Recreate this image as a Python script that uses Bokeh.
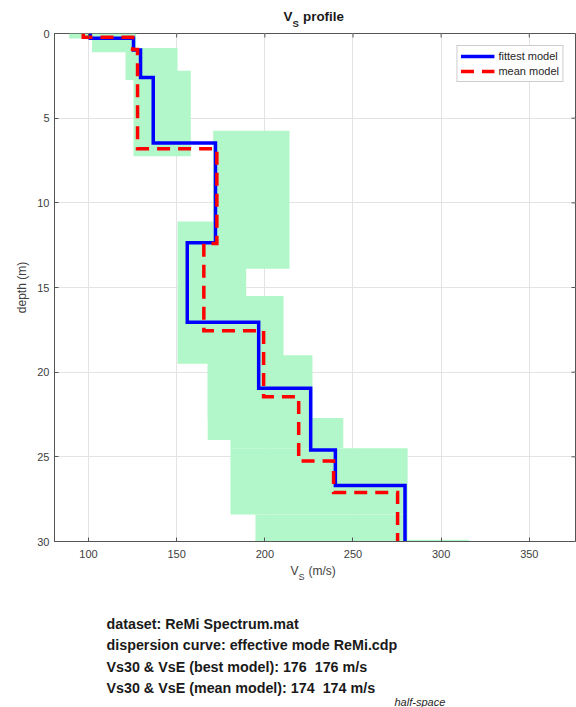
from bokeh.plotting import figure
from bokeh.models import Range1d, FixedTicker, Legend, LegendItem
from bokeh.layouts import column
from bokeh.core.properties import value
from bokeh.embed import file_html
from bokeh.resources import INLINE

# ---------------- data ----------------
# fittest model (blue): shear-wave velocity per layer and layer bottom depth
fit_vs = [101, 125.5, 129.5, 136.7, 172.0, 156.0, 196.5, 226.0, 240.0, 279.5]
fit_bottom = [0.28, 0.98, 2.6, 6.46, 12.35, 17.05, 20.95, 24.6, 26.7, 30]
# mean model (red dashed)
mean_vs = [97, 125.0, 127.8, 172.8, 165.4, 199.3, 219.2, 239.0, 275.3]
mean_bottom = [0.22, 0.95, 6.8, 12.4, 17.55, 21.45, 25.25, 27.1, 30]
# search-space / uncertainty rectangles (green)
band_vmin = [89, 102, 121, 125.5, 170.7, 150.5, 167.6, 167.6, 180.5, 180.5, 194.7, 194.7]
band_vmax = [127, 127, 150.5, 158, 214, 189.4, 210.6, 227, 244.5, 281, 281, 316]
band_top = [0, 0.28, 0.86, 2.2, 5.75, 11.1, 15.5, 19.0, 22.7, 24.5, 28.4, 29.9]
band_bottom = [0.3, 1.1, 2.75, 7.25, 13.9, 19.5, 24.0, 22.7, 24.5, 28.4, 30, 31]

x_ticks = [100, 150, 200, 250, 300, 350]
y_ticks = [0, 5, 10, 15, 20, 25, 30]
X_MIN, X_MAX = 80.7, 376.2
Y_MIN, Y_MAX = 0, 30

info_lines = [
    "dataset: ReMi Spectrum.mat",
    "dispersion curve: effective mode ReMi.cdp",
    "Vs30 & VsE (best model): 176 \u00a0176 m/s",
    "Vs30 & VsE (mean model): 174 \u00a0174 m/s",
]


def step_xy(vs, bottoms):
    xs, ys = [], []
    top = 0.0
    for v, b in zip(vs, bottoms):
        xs += [v, v]
        ys += [top, b]
        top = b
    return xs, ys


FONT = "Liberation Sans"
W = 576
TOP_H = 27          # title strip
MAIN_TOP = 6        # border above the frame inside the main plot (frame top at 33)
MAIN_BOT = 24       # border below the frame (frame bottom at 541)
MAIN_H = 541 + MAIN_BOT - TOP_H
BOT_H = 707 - TOP_H - MAIN_H
FL, FR = 54, 575
AX = "#555555"


def blank(h):
    f = figure(width=W, height=h, x_range=Range1d(FL, FR), y_range=Range1d(h, 0),
               output_backend="svg", toolbar_location=None,
               min_border_left=FL, min_border_right=W - FR, min_border_top=0, min_border_bottom=0)
    f.axis.visible = False
    f.grid.visible = False
    f.outline_line_color = None
    f.background_fill_color = "white"
    f.border_fill_color = "white"
    return f


def txt(f, x, y, s, size, style="normal", align="left", color="#1a1a1a"):
    f.text(x=[x], y=[y], text=[s], text_font=value(FONT), text_font_size=value(f"{size}px"),
           text_font_style=value(style), text_align=align, text_baseline="middle",
           text_color=color)


# ---------------- title strip ----------------
t = blank(TOP_H)
txt(t, 283, 16, "V", 13.4, "bold")
txt(t, 292, 22.5, "S", 9.5, "bold")
txt(t, 302.5, 16, "profile", 13.4, "bold")

# ---------------- main plot ----------------
p = figure(width=W, height=MAIN_H, x_range=Range1d(X_MIN, X_MAX), y_range=Range1d(Y_MAX, Y_MIN),
           output_backend="svg", toolbar_location=None,
           min_border_left=FL, min_border_right=W - FR, min_border_top=MAIN_TOP,
           min_border_bottom=MAIN_BOT)
p.background_fill_color = "white"
p.border_fill_color = "white"
p.outline_line_color = AX
p.outline_line_width = 1

for ax in (p.xaxis[0], p.yaxis[0]):
    ax.major_tick_in = 4
    ax.major_tick_out = 0
    ax.minor_tick_in = 0
    ax.minor_tick_out = 0
    ax.axis_line_color = AX
    ax.major_tick_line_color = AX
    ax.major_label_text_font = FONT
    ax.major_label_text_font_size = "11px"
    ax.major_label_text_color = "#404040"
p.xaxis.ticker = FixedTicker(ticks=x_ticks)
p.yaxis.ticker = FixedTicker(ticks=y_ticks)
p.xaxis.major_label_standoff = 8
p.yaxis.major_label_standoff = 5
p.yaxis.axis_label = "depth (m)"
p.yaxis.axis_label_text_font = FONT
p.yaxis.axis_label_text_font_size = "12px"
p.yaxis.axis_label_text_font_style = "normal"
p.yaxis.axis_label_text_color = "#404040"
p.yaxis.axis_label_standoff = 5

p.xgrid.ticker = FixedTicker(ticks=x_ticks)
p.ygrid.ticker = FixedTicker(ticks=y_ticks)
p.grid.grid_line_color = "#e3e3e3"
p.grid.grid_line_width = 1

p.quad(left=band_vmin, right=band_vmax, top=band_top, bottom=band_bottom,
       fill_color="#b2f7c9", line_color=None)

fx, fy = step_xy(fit_vs, fit_bottom)
mx, my = step_xy(mean_vs, mean_bottom)
r_fit = p.line(fx, fy, line_color="#0000ff", line_width=3.5, line_join="miter")
r_mean = p.line(mx, my, line_color="#ff0000", line_width=3.5, line_dash="13 8", line_join="miter")

# tick marks on the top and right edges (box on, ticks inward, ~4 px)
tick_dy = 4 * (Y_MAX - Y_MIN) / 508
tick_dx = 4 * (X_MAX - X_MIN) / 521
p.segment(x0=x_ticks, x1=x_ticks, y0=[Y_MIN] * len(x_ticks), y1=[Y_MIN + tick_dy] * len(x_ticks),
          line_color=AX, line_width=1)
p.segment(x0=[X_MAX] * len(y_ticks), x1=[X_MAX - tick_dx] * len(y_ticks), y0=y_ticks, y1=y_ticks,
          line_color=AX, line_width=1)

legend = Legend(items=[LegendItem(label="fittest model", renderers=[r_fit]),
                       LegendItem(label="mean model", renderers=[r_mean])],
                location="top_right", margin=12, padding=3, spacing=1,
                label_height=14, glyph_height=14, glyph_width=34, label_standoff=4,
                label_text_font=FONT, label_text_font_size="11px", label_text_color="#262626",
                border_line_color="#9a9a9a", border_line_width=1, background_fill_alpha=1)
p.add_layout(legend)

# ---------------- bottom strip ----------------
b = blank(BOT_H)
Y0 = TOP_H + MAIN_H
# x axis label: V_S (m/s)
txt(b, 290, 570 - Y0, "V", 12, color="#404040")
txt(b, 298, 576 - Y0, "S", 9, color="#404040")
txt(b, 308, 570 - Y0, "(m/s)", 12, color="#404040")
for i, line in enumerate(info_lines):
    txt(b, 106, 623 + i * 21.6 - Y0, line, 14.3, "bold")
txt(b, 394, 701 - Y0, "half-space", 11, "italic", color="#262626")

layout = column(t, p, b, spacing=0)
open("out.html", "w").write(file_html(layout, INLINE))
